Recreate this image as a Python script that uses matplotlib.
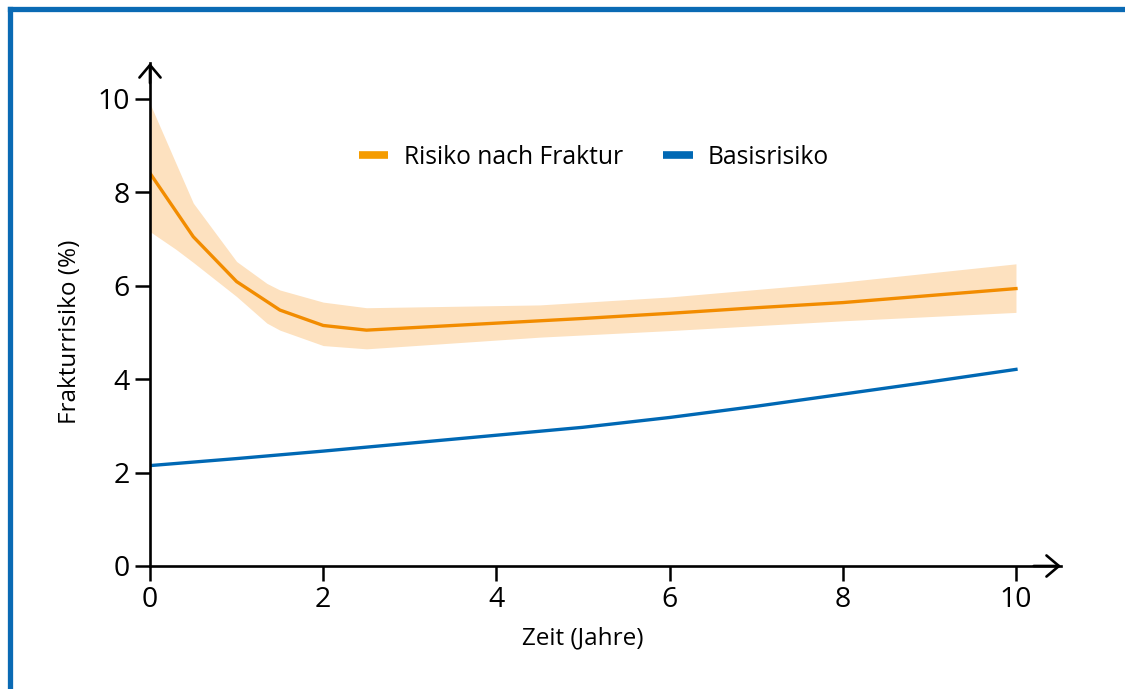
import matplotlib
matplotlib.use("Agg")
import matplotlib.pyplot as plt
from matplotlib.lines import Line2D

plt.rcParams['font.family'] = ['Open Sans', 'DejaVu Sans']

# Data
years_frac = [0, 0.5, 1, 1.5, 2, 2.5, 3, 4, 5, 6, 7, 8, 9, 10]
risk_frac = [8.41, 7.05, 6.09, 5.48, 5.15, 5.05, 5.10, 5.20, 5.30, 5.41, 5.53, 5.64, 5.79, 5.94]

band_x = [0, 0.3, 0.5, 1, 1.35, 1.5, 2, 2.5, 4.5, 6, 8, 10]
band_upper = [9.90, 8.62, 7.77, 6.52, 6.05, 5.91, 5.65, 5.53, 5.59, 5.76, 6.08, 6.47]
band_lower = [7.16, 6.78, 6.50, 5.77, 5.20, 5.05, 4.72, 4.65, 4.90, 5.04, 5.25, 5.43]

years_base = [0, 1, 2, 3, 4, 5, 6, 7, 8, 9, 10]
risk_base = [2.15, 2.30, 2.46, 2.63, 2.80, 2.97, 3.18, 3.42, 3.68, 3.94, 4.21]

xticks = [0, 2, 4, 6, 8, 10]
yticks = [0, 2, 4, 6, 8, 10]
label_frac = "Risiko nach Fraktur"
label_base = "Basisrisiko"
xlabel = "Zeit (Jahre)"
ylabel = "Frakturrisiko (%)"

ORANGE = '#F28C00'
LEGEND_ORANGE = '#F59C00'
BAND = '#FDE1BF'
BLUE = '#0068B4'
FRAME = '#0A6AB4'

W, H = 1125, 689
fig = plt.figure(figsize=(W / 100, H / 100), dpi=100)
ax = fig.add_axes([150 / W, 1 - 566 / H, 911 / W, 503 / H])

ax.fill_between(band_x, band_lower, band_upper, color=BAND, lw=0, zorder=1)
ax.plot(years_frac, risk_frac, color=ORANGE, lw=2.4, zorder=3)
ax.plot(years_base, risk_base, color=BLUE, lw=2.4, zorder=3)

ax.set_xlim(0, 10.52)
ax.set_ylim(0, 10.77)
ax.set_xticks(xticks)
ax.set_yticks(yticks)
ax.tick_params(axis='both', direction='out', length=10.5, width=1.8, labelsize=20.5, color='black')
ax.tick_params(axis='x', pad=4)
ax.tick_params(axis='y', pad=4)

for s in ['top', 'right']:
    ax.spines[s].set_visible(False)
for s in ['left', 'bottom']:
    ax.spines[s].set_linewidth(1.9)
    ax.spines[s].set_color('black')
    ax.spines[s].set_zorder(4)

arrow_kw = dict(arrowstyle='->,head_length=0.45,head_width=0.38', lw=1.9, color='black',
                shrinkA=0, shrinkB=0, mutation_scale=20)
ax.annotate('', xy=(1, 0), xytext=(0.97, 0), xycoords='axes fraction',
            textcoords='axes fraction', arrowprops=arrow_kw, annotation_clip=False)
ax.annotate('', xy=(0, 1), xytext=(0, 0.96), xycoords='axes fraction',
            textcoords='axes fraction', arrowprops=arrow_kw, annotation_clip=False)

fig.text(583 / W, 1 - 638 / H, xlabel, ha='center', va='center', fontsize=17.5)
fig.text(70 / W, 1 - 332 / H, ylabel, ha='center', va='center', fontsize=17.5, rotation=90)

handles = [Line2D([], [], color=LEGEND_ORANGE, lw=5.5, solid_capstyle='butt'),
           Line2D([], [], color=BLUE, lw=5.5, solid_capstyle='butt')]
fig.legend(handles, [label_frac, label_base], loc='center',
           bbox_to_anchor=(594 / W, 1 - 157 / H), ncol=2, frameon=False,
           fontsize=17.7, handlelength=1.2, handletextpad=0.62, columnspacing=1.65)

# Blue frame (top and left)
fig.add_artist(Line2D([9.5 / W, 1.01], [1 - 9 / H, 1 - 9 / H], transform=fig.transFigure,
                      color=FRAME, lw=3.8, solid_capstyle='projecting'))
fig.add_artist(Line2D([9.5 / W, 9.5 / W], [-0.01, 1 - 9 / H], transform=fig.transFigure,
                      color=FRAME, lw=3.8, solid_capstyle='projecting'))

fig.savefig('out.png', dpi=100, facecolor='white')
